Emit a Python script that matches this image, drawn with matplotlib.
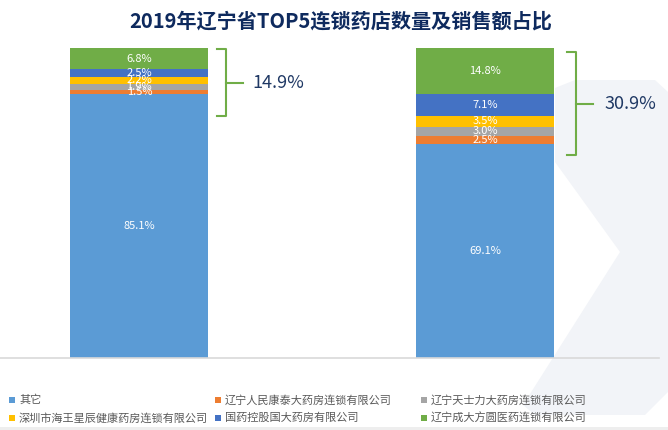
import matplotlib
matplotlib.use("Agg")
import matplotlib.pyplot as plt
from matplotlib.patches import Polygon, Rectangle
import numpy as np

plt.rcParams['font.family'] = ['Noto Sans CJK SC', 'DejaVu Sans']

# ---- data ----
categories = ['门店数量', '销售额']
series_names = ['其它', '辽宁人民康泰大药房连锁有限公司', '辽宁天士力大药房连锁有限公司',
                '深圳市海王星辰健康药房连锁有限公司', '国药控股国大药房有限公司', '辽宁成大方圆医药连锁有限公司']
other_vals = [85.1, 69.1]
kangtai_vals = [1.5, 2.5]
tianshili_vals = [1.9, 3.0]
haiwang_vals = [2.2, 3.5]
guoda_vals = [2.5, 7.1]
chengda_vals = [6.8, 14.8]
series_vals = [other_vals, kangtai_vals, tianshili_vals, haiwang_vals, guoda_vals, chengda_vals]
colors = ['#5B9BD5', '#ED7D31', '#A5A5A5', '#FFC000', '#4472C4', '#70AD47']
title = '2019年辽宁省TOP5连锁药店数量及销售额占比'

W, H = 668, 430
fig = plt.figure(figsize=(W / 100, H / 100), dpi=100)

def fx(px):
    return px / W

def fy(py):
    return 1 - py / H

# decorative background shape
bg_pts = [(555, 162), (555, 88), (575, 80), (655, 80), (668, 92), (668, 392),
          (645, 415), (535, 415), (523, 405), (620, 252)]
fig.patches.append(Polygon([(fx(a), fy(b)) for a, b in bg_pts], closed=True,
                           transform=fig.transFigure, facecolor='#F2F4F8',
                           edgecolor='none', zorder=-2))
fig.patches.append(Rectangle((0, 0), 1, fy(427), transform=fig.transFigure,
                             facecolor='#EEEEEE', edgecolor='none', zorder=-2))

ax = fig.add_axes([0, fy(358), fx(659), (358 - 48) / H])
ax.set_facecolor('none')
ax.set_zorder(1)
x = np.arange(len(categories))
bottom = np.zeros(len(categories))
for name, vals, c in zip(series_names, series_vals, colors):
    vals = np.array(vals)
    ax.bar(x, vals, width=0.4, bottom=bottom, color=c, zorder=2)
    for xi, b, v in zip(x, bottom, vals):
        ax.text(xi, b + v / 2, f'{v:.1f}%', ha='center', va='center',
                color='white', fontsize=8, zorder=3)
    bottom += vals

ax.set_xlim(-0.403, 1.503)
ax.set_ylim(0, 100)
for s in ['top', 'right', 'left']:
    ax.spines[s].set_visible(False)
ax.spines['bottom'].set_color('#D9D9D9')
ax.spines['bottom'].set_linewidth(1.2)
ax.set_xticks([])
ax.set_yticks([])

# brackets
top5 = [sum(v[i] for v in series_vals[1:]) for i in range(len(categories))]
brackets = [  # (x_vertical, x_hook, x_tip, y_top, y_bot, y_mid, x_text)
    (0.250, 0.224, 0.299, 99.7, 78.1, 88.7, 0.328),
    (1.262, 1.236, 1.311, 98.7, 65.5, 81.9, 1.345),
]
for (xv, xh, xt, yt, yb, ym, xtext), tot in zip(brackets, top5):
    ax.plot([xh, xv, xv, xh], [yt, yt, yb, yb], color='#70AD47', lw=1.5,
            solid_joinstyle='round', clip_on=False, zorder=3)
    ax.plot([xv, xt], [ym, ym], color='#70AD47', lw=1.5, clip_on=False, zorder=3)
    ax.text(xtext, ym, f'{tot:.1f}%', ha='left', va='center', fontsize=13,
            color='#1F3864', fontweight='light', clip_on=False)

fig.text(fx(341), fy(21), title, ha='center', va='center', fontsize=14.5,
         fontweight='bold', color='#0E2A5E')

# legend
col_x = [9, 215, 421]
row_y = [400, 418]
for i, (name, c) in enumerate(zip(series_names, colors)):
    r, cc = divmod(i, 3)
    px, py = col_x[cc], row_y[r]
    fig.patches.append(Rectangle((fx(px), fy(py + 3)), 6 / W, 6 / H,
                                 transform=fig.transFigure, facecolor=c,
                                 edgecolor='none', zorder=3))
    fig.text(fx(px + 10), fy(py), name, ha='left', va='center', fontsize=8,
             color='#595959')

fig.savefig('out.png', dpi=100)
